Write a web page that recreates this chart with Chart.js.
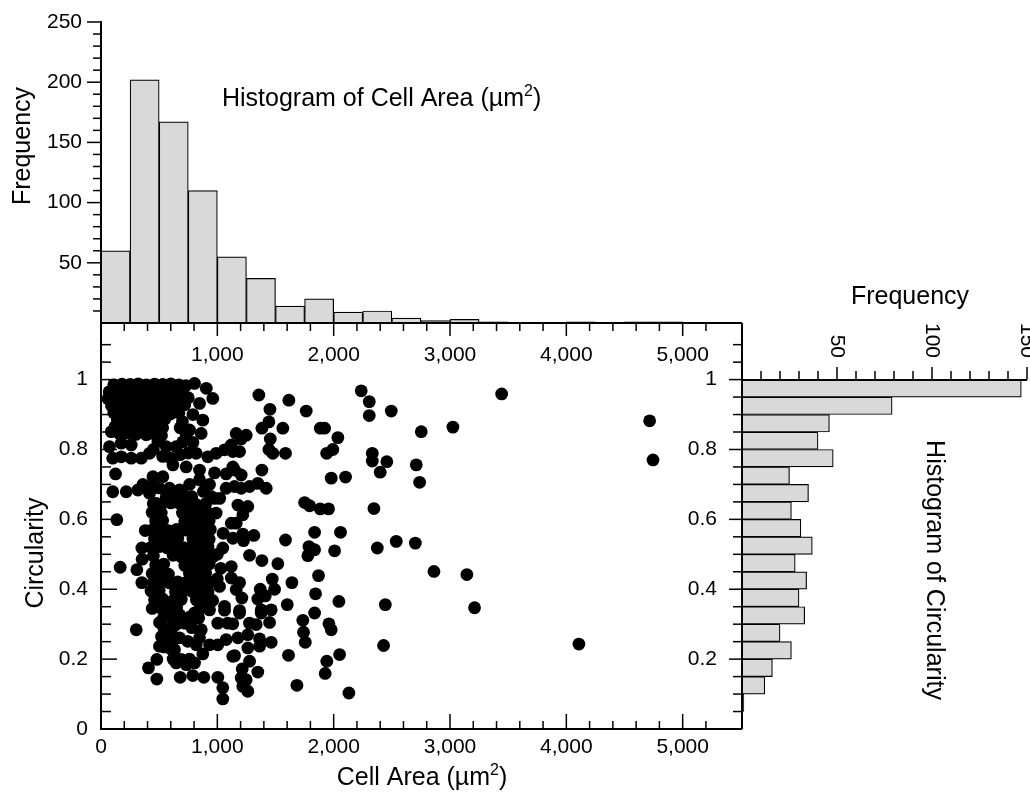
<!DOCTYPE html>
<html>
<head>
<meta charset="utf-8">
<title>Cell area vs circularity</title>
<script src="https://cdn.jsdelivr.net/npm/chart.js@4.4.0/dist/chart.umd.min.js"></script>
<style>
  html, body { margin: 0; padding: 0; background: #fff; }
  #wrap { position: relative; width: 1030px; height: 797px; }
  #wrap canvas { position: absolute; left: 0; top: 0; }
</style>
</head>
<body>
<div id="wrap">
  <canvas id="topHist" width="1030" height="797"></canvas>
  <canvas id="sideHist" width="1030" height="797"></canvas>
  <canvas id="scatter" width="1030" height="797"></canvas>
</div>
<script>
// ===================== DATA =====================
// histogram of cell area, bins of 250 um2 (bin centres)
const areaBins = [125, 375, 625, 875, 1125, 1375, 1625, 1875, 2125, 2375,
                  2625, 2875, 3125, 3375, 3625, 3875, 4125, 4375, 4625, 4875];
const areaFreq = [60, 202, 167, 110, 55, 37, 14, 20, 9, 10,
                  4, 2, 3, 1, 0, 0, 1, 0, 1, 1];

// histogram of circularity, bins of 0.05 (bin centres)
const circBins = [0.025, 0.075, 0.125, 0.175, 0.225, 0.275, 0.325, 0.375, 0.425, 0.475,
                  0.525, 0.575, 0.625, 0.675, 0.725, 0.775, 0.825, 0.875, 0.925, 0.975];
const circFreq = [0, 1, 12, 16, 26, 20, 33, 30, 34, 28,
                  37, 31, 26, 35, 25, 48, 40, 46, 79, 147];

// cells: [area (um2), circularity]
const cells = [
  // dense top-left group
  [110,0.985],[180,0.987],[250,0.986],[320,0.988],[390,0.985],[460,0.987],[530,0.986],[600,0.988],[670,0.985],[730,0.983],[804,0.989],
  [70,0.965],[140,0.966],[210,0.964],[280,0.967],[350,0.965],[420,0.963],[490,0.966],[560,0.964],[630,0.967],[700,0.962],[905,0.975],
  [60,0.945],[120,0.946],[190,0.944],[260,0.947],[330,0.943],[400,0.946],[470,0.944],[540,0.947],[610,0.943],[680,0.945],[750,0.948],[961,0.946],
  [90,0.925],[160,0.924],[230,0.927],[300,0.923],[370,0.926],[440,0.924],[510,0.927],[580,0.922],[650,0.925],[720,0.928],[847,0.932],
  [110,0.905],[180,0.904],[250,0.907],[320,0.903],[390,0.906],[460,0.904],[530,0.907],[600,0.902],[670,0.905],[790,0.9],
  [140,0.885],[210,0.884],[280,0.887],[350,0.883],[420,0.886],[490,0.884],[550,0.887],[700,0.88],[875,0.884],
  [120,0.865],[190,0.864],[260,0.867],[330,0.863],[400,0.866],[470,0.864],[530,0.862],[680,0.862],[761,0.856],
  [88,0.851],[160,0.845],[230,0.847],[300,0.843],[389,0.842],[450,0.846],[732,0.842],[861,0.846],
  // 0.75 - 0.84
  [73,0.808],[101,0.775],[174,0.818],[260,0.813],[174,0.779],[260,0.775],[346,0.775],[417,0.789],[489,0.823],[520,0.84],
  [450,0.8],[561,0.808],[530,0.78],[600,0.775],[646,0.808],[680,0.785],[703,0.822],[750,0.79],[790,0.82],[818,0.789],
  [918,0.779],[990,0.789],[1062,0.799],[1120,0.813],[1162,0.846],[1205,0.83],[1248,0.841],[1133,0.794],[1191,0.794],
  // 0.65 - 0.75
  [125,0.73],[101,0.679],[217,0.679],[317,0.684],[360,0.7],[446,0.722],[532,0.722],[446,0.7],[400,0.69],[417,0.675],
  [500,0.69],[589,0.689],[560,0.665],[618,0.756],[640,0.66],[675,0.684],[700,0.675],[732,0.75],[761,0.7],[780,0.665],
  [847,0.741],[847,0.713],[880,0.68],[933,0.7],[950,0.665],[976,0.733],[976,0.66],[1020,0.66],[1076,0.689],[1076,0.73],
  [1133,0.75],[1148,0.741],[1205,0.727],[1148,0.694],[1205,0.689],[1277,0.694],[1348,0.703],[1420,0.689],[1383,0.741],
  // main column 0.34 - 0.65
  [475,0.646],[518,0.618],
  [450,0.645],[520,0.643],[600,0.647],[680,0.644],[750,0.646],[820,0.642],[900,0.645],
  [440,0.62],[700,0.618],[770,0.622],[840,0.619],[910,0.621],[990,0.618],
  [470,0.595],[530,0.597],[720,0.594],[790,0.596],[860,0.593],[930,0.597],
  [440,0.57],[510,0.572],[580,0.568],[650,0.571],[730,0.569],[800,0.572],[870,0.568],[940,0.571],
  [460,0.545],[530,0.547],[600,0.543],[660,0.546],[790,0.544],[860,0.547],[930,0.543],
  [430,0.52],[500,0.522],[570,0.518],[640,0.521],[710,0.519],[780,0.522],[850,0.518],[920,0.521],
  [450,0.495],[620,0.497],[690,0.493],[760,0.496],[830,0.494],[900,0.497],[960,0.493],
  [470,0.47],[540,0.472],[720,0.468],[790,0.471],[860,0.469],[930,0.472],
  [440,0.445],[510,0.447],[580,0.443],[760,0.446],[830,0.444],[900,0.447],
  [450,0.42],[520,0.422],[590,0.418],[660,0.421],[730,0.419],[800,0.422],[870,0.418],[940,0.421],
  [430,0.395],[500,0.397],[640,0.393],[710,0.396],[780,0.394],[850,0.397],[920,0.393],
  [460,0.37],[530,0.372],[620,0.368],[690,0.371],[820,0.369],[890,0.372],[960,0.368],
  [440,0.345],[510,0.347],[580,0.343],[650,0.346],[850,0.344],[920,0.347],
  [136,0.599],[165,0.463],[308,0.456],[351,0.419],[351,0.518],[354,0.486],[380,0.568],
  [1000,0.5],[1030,0.46],[1000,0.43],[1050,0.56],[1047,0.518],[1120,0.589],[1120,0.465],[1120,0.432],[1019,0.408],[1062,0.351],
  [1162,0.589],[1133,0.546],[1219,0.558],[1314,0.554],[1225,0.539],[1219,0.613],[1177,0.641],[1262,0.637],[1277,0.497],
  [1383,0.482],[1520,0.473],[1191,0.419],[1162,0.399],[1211,0.375],[1191,0.339],[1472,0.429],[1492,0.4],[1369,0.4],
  [1348,0.372],[1412,0.381],[1601,0.356],[1377,0.341],[1463,0.341],[1641,0.419],[1586,0.541],
  // lower group 0.08 - 0.34
  [303,0.284],[408,0.175],[480,0.143],[681,0.148],[789,0.153],[884,0.148],[1004,0.148],[1047,0.118],[1047,0.086],
  [503,0.305],[1004,0.303],[1090,0.303],[480,0.199],[646,0.189],[733,0.184],[804,0.189],[875,0.215],[690,0.199],
  [503,0.237],[531,0.261],[574,0.275],[604,0.246],[632,0.227],[675,0.261],[746,0.251],[819,0.241],[847,0.261],
  [862,0.284],[933,0.241],[1004,0.241],[1076,0.256],[1133,0.208],[589,0.322],[675,0.327],[733,0.313],[804,0.332],
  [646,0.299],[718,0.303],[560,0.34],[933,0.341],[1062,0.34],
  [540,0.32],[620,0.315],[760,0.32],[840,0.318],[540,0.29],[610,0.288],[780,0.29],[520,0.265],[600,0.262],
  [540,0.235],[600,0.23],[620,0.2],[760,0.2],
  // scattered larger cells
  [1357,0.956],[1615,0.941],[1452,0.915],[1764,0.91],[1443,0.879],[1383,0.861],[1563,0.861],[1885,0.861],[1922,0.861],
  [2036,0.834],[1455,0.83],[1443,0.8],[1477,0.789],[1586,0.789],[1940,0.789],[1993,0.8],[1979,0.718],[2102,0.721],
  [2237,0.968],[2306,0.937],[2306,0.897],[2495,0.91],[3444,0.959],[3025,0.864],[2753,0.851],[2332,0.789],[2332,0.767],
  [2457,0.765],[2400,0.735],[2710,0.756],[2739,0.706],[4716,0.882],[4745,0.77],[2346,0.631],[2375,0.518],[2538,0.537],
  [2702,0.532],[2862,0.451],[3145,0.442],[3211,0.347],[2444,0.356],[2429,0.239],[4108,0.243],
  [1750,0.648],[1793,0.639],[1885,0.63],[1956,0.63],[1836,0.563],[2059,0.563],[1787,0.522],[1836,0.513],[1778,0.496],
  [2008,0.51],[1870,0.439],[1844,0.387],[2045,0.365],[1836,0.332],
  [1735,0.311],[1741,0.277],[1756,0.248],[1959,0.301],[1979,0.284],[1612,0.211],[2051,0.213],[1941,0.194],[1927,0.159],
  [1684,0.125],[2131,0.103],[1463,0.248],[1449,0.305],[1377,0.332],[1191,0.332],[1133,0.301],[1277,0.303],[1334,0.299],
  [1177,0.261],[1262,0.27],[1363,0.258],[1363,0.237],[1148,0.21],[1277,0.194],[1348,0.163],[1214,0.172],[1205,0.146],
  [1248,0.141],[1219,0.122],[1262,0.108],[1262,0.232]
];

// tick labels
const areaTickVals = [0, 1000, 2000, 3000, 4000, 5000];
const areaTickLabels = ['0', '1,000', '2,000', '3,000', '4,000', '5,000'];
const circTickVals = [0, 0.2, 0.4, 0.6, 0.8, 1];
const circTickLabels = ['0', '0.2', '0.4', '0.6', '0.8', '1'];
const topFreqTicks = [50, 100, 150, 200, 250];
const sideFreqTicks = [50, 100, 150];

// ===================== HELPERS =====================
const FONT = "'Liberation Sans', Arial, Helvetica, sans-serif";
const TICK_PX = 21;
const TITLE_PX = 25;
const AREA_MAX = 5510;
const CIRC_MAX = 1.162;

function seg(ctx, x1, y1, x2, y2) {
  ctx.beginPath(); ctx.moveTo(x1, y1); ctx.lineTo(x2, y2); ctx.stroke();
}
function steps(from, to, step) {
  const out = [];
  for (let i = 0; from + i * step <= to + 1e-9; i++) out.push(+(from + i * step).toFixed(4));
  return out;
}
function isMult(v, m) { return Math.abs(v / m - Math.round(v / m)) < 1e-6; }

// tick marks along a horizontal axis line at y (dir +1 down, -1 up)
function hTicks(ctx, scale, y, vals, majorStep, dir, majLen, minLen) {
  vals.forEach(v => {
    const x = scale.getPixelForValue(v);
    seg(ctx, x, y, x, y + dir * (isMult(v, majorStep) ? majLen : minLen));
  });
}
// tick marks along a vertical axis line at x (dir +1 right, -1 left)
function vTicks(ctx, scale, x, vals, majorStep, dir, majLen, minLen) {
  vals.forEach(v => {
    const y = scale.getPixelForValue(v);
    seg(ctx, x, y, x + dir * (isMult(v, majorStep) ? majLen : minLen), y);
  });
}
function label(ctx, str, x, y, align, baseline, rot, size) {
  ctx.save();
  ctx.translate(x, y);
  if (rot) ctx.rotate(rot);
  ctx.font = size + 'px ' + FONT;
  ctx.textAlign = align;
  ctx.textBaseline = baseline;
  ctx.fillStyle = '#000';
  ctx.fillText(str, 0, 0);
  ctx.restore();
}
// text with a superscript part: [before, sup, after]
function supLabel(ctx, parts, x, y, align, size) {
  ctx.save();
  ctx.fillStyle = '#000';
  ctx.textBaseline = 'alphabetic';
  ctx.textAlign = 'left';
  const big = size + 'px ' + FONT, small = Math.round(size * 0.62) + 'px ' + FONT;
  ctx.font = big; const w1 = ctx.measureText(parts[0]).width, w3 = ctx.measureText(parts[2]).width;
  ctx.font = small; const w2 = ctx.measureText(parts[1]).width;
  let x0 = x;
  if (align === 'center') x0 = x - (w1 + w2 + w3) / 2;
  ctx.font = big; ctx.fillText(parts[0], x0, y);
  ctx.font = small; ctx.fillText(parts[1], x0 + w1, y - size * 0.42);
  ctx.font = big; ctx.fillText(parts[2], x0 + w1 + w2, y);
  ctx.restore();
}

const common = {
  responsive: false,
  animation: false,
  devicePixelRatio: 1,
  events: [],
  plugins: { legend: { display: false }, tooltip: { enabled: false } },
};

// ===================== TOP HISTOGRAM =====================
new Chart(document.getElementById('topHist'), {
  type: 'bar',
  data: {
    datasets: [{
      data: areaBins.map((c, i) => ({ x: c, y: areaFreq[i] })),
      backgroundColor: '#d9d9d9',
      borderColor: '#000',
      borderWidth: 1.2,
      barPercentage: 1,
      categoryPercentage: 1,
    }]
  },
  options: {
    ...common,
    layout: { padding: { left: 101, right: 1030 - 742, top: 22, bottom: 797 - 323 } },
    scales: {
      x: { type: 'linear', display: false, offset: false, min: 0, max: AREA_MAX,
           ticks: { stepSize: 250, includeBounds: false } },
      y: { type: 'linear', display: false, min: 0, max: 250 },
    }
  },
  plugins: [{
    id: 'topAxes',
    afterDraw(chart) {
      const { ctx, chartArea: a, scales: { x, y } } = chart;
      ctx.save();
      ctx.strokeStyle = '#000';
      ctx.lineWidth = 2;
      seg(ctx, a.left, a.top - 1, a.left, a.bottom);
      seg(ctx, a.left, a.bottom, a.right, a.bottom);
      ctx.lineWidth = 1.5;
      vTicks(ctx, y, a.left, steps(10, 250, 10), 50, -1, 14, 8);
      hTicks(ctx, x, a.bottom, steps(0, 5200, 200), 1000, 1, 13, 8);
      topFreqTicks.forEach(v => label(ctx, String(v), a.left - 19, y.getPixelForValue(v), 'right', 'middle', 0, TICK_PX));
      areaTickVals.forEach((v, i) => {
        if (v > 0) label(ctx, areaTickLabels[i], x.getPixelForValue(v), a.bottom + 32, 'center', 'middle', 0, TICK_PX);
      });
      label(ctx, 'Frequency', 30, 146, 'center', 'alphabetic', -Math.PI / 2, TITLE_PX);
      supLabel(ctx, ['Histogram of Cell Area (µm', '2', ')'], 222, 106, 'left', TITLE_PX);
      ctx.restore();
    }
  }]
});

// ===================== SIDE HISTOGRAM =====================
new Chart(document.getElementById('sideHist'), {
  type: 'bar',
  data: {
    datasets: [{
      data: circBins.map((c, i) => ({ x: circFreq[i], y: c })),
      backgroundColor: '#d9d9d9',
      borderColor: '#000',
      borderWidth: 1.2,
      barPercentage: 1,
      categoryPercentage: 1,
    }]
  },
  options: {
    ...common,
    indexAxis: 'y',
    layout: { padding: { left: 742, right: 1030 - 1027, top: 323, bottom: 797 - 729 } },
    scales: {
      x: { type: 'linear', display: false, min: 0, max: 150 },
      y: { type: 'linear', display: false, offset: false, min: 0, max: CIRC_MAX,
           ticks: { stepSize: 0.05, includeBounds: false } },
    }
  },
  plugins: [{
    id: 'sideAxes',
    afterDraw(chart) {
      const { ctx, chartArea: a, scales: { x, y } } = chart;
      const y1 = Math.round(y.getPixelForValue(1));
      ctx.save();
      ctx.strokeStyle = '#000';
      ctx.lineWidth = 2;
      seg(ctx, a.left, a.top, a.left, a.bottom);
      seg(ctx, a.left, y1, a.right, y1);
      ctx.lineWidth = 1.5;
      vTicks(ctx, y, a.left, steps(0.05, 1.1, 0.05), 0.2, -1, 13, 9);
      hTicks(ctx, x, y1, steps(10, 150, 10), 50, -1, 13, 9);
      circTickVals.forEach((v, i) => {
        if (v > 0) label(ctx, circTickLabels[i], a.left - 25, y.getPixelForValue(v), 'right', 'middle', 0, TICK_PX);
      });
      sideFreqTicks.forEach(v => label(ctx, String(v), x.getPixelForValue(v), y1 - 22, 'right', 'middle', Math.PI / 2, TICK_PX));
      label(ctx, 'Frequency', 910, 304, 'center', 'alphabetic', 0, TITLE_PX);
      label(ctx, 'Histogram of Circularity', 927, 570, 'center', 'alphabetic', Math.PI / 2, TITLE_PX);
      ctx.restore();
    }
  }]
});

// ===================== SCATTER =====================
new Chart(document.getElementById('scatter'), {
  type: 'scatter',
  data: {
    datasets: [{
      data: cells.map(([ar, ci]) => ({ x: ar, y: ci })),
      backgroundColor: '#000',
      borderColor: '#000',
      borderWidth: 0,
      pointRadius: 6.4,
      pointHoverRadius: 6.4,
    }]
  },
  options: {
    ...common,
    layout: { padding: { left: 101, right: 1030 - 742, top: 323, bottom: 797 - 729 } },
    scales: {
      x: { type: 'linear', display: false, min: 0, max: AREA_MAX },
      y: { type: 'linear', display: false, min: 0, max: CIRC_MAX },
    }
  },
  plugins: [{
    id: 'scatterAxes',
    afterDraw(chart) {
      const { ctx, chartArea: a, scales: { x, y } } = chart;
      ctx.save();
      ctx.strokeStyle = '#000';
      ctx.lineWidth = 2;
      seg(ctx, a.left, a.top, a.left, a.bottom + 1);
      seg(ctx, a.left - 1, a.bottom, a.right, a.bottom);
      ctx.lineWidth = 1.5;
      vTicks(ctx, y, a.left, steps(0.05, 1.1, 0.05), 0.2, 1, 16, 10);
      hTicks(ctx, x, a.bottom, steps(200, 5200, 200), 1000, -1, 15, 8);
      circTickVals.forEach((v, i) => label(ctx, circTickLabels[i], a.left - 13, y.getPixelForValue(v), 'right', 'middle', 0, TICK_PX));
      areaTickVals.forEach((v, i) => label(ctx, areaTickLabels[i], x.getPixelForValue(v), a.bottom + 18, 'center', 'middle', 0, TICK_PX));
      label(ctx, 'Circularity', 43, 553, 'center', 'alphabetic', -Math.PI / 2, TITLE_PX);
      supLabel(ctx, ['Cell Area (µm', '2', ')'], 422, 785, 'center', TITLE_PX);
      ctx.restore();
    }
  }]
});
</script>
</body>
</html>
